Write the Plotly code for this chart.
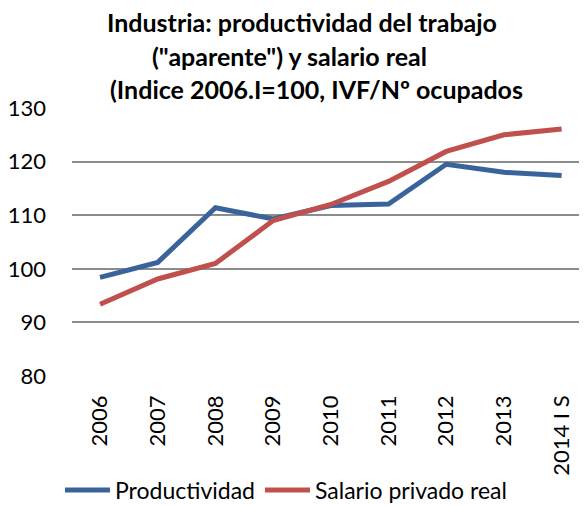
import plotly.graph_objects as go

categories = ["2006", "2007", "2008", "2009", "2010", "2011", "2012", "2013", "2014 I S"]
productividad = [98.4, 101.2, 111.4, 109.3, 111.8, 112.1, 119.5, 118.0, 117.4]
salario = [93.4, 98.1, 101.0, 109.0, 112.0, 116.3, 121.9, 125.0, 126.1]
title_lines = ["Industria: productividad del trabajo",
               "(\"aparente\") y salario real",
               "(Indice 2006.I=100, IVF/Nº ocupados"]
y_ticks = [80, 90, 100, 110, 120, 130]

FONT = "Lato"
OFF = 8  # page body margin offset
W, H = 587 - OFF, 506 - OFF
L, R, T, B = 72 - OFF, 0, 108 - OFF, 130
PW, PH = W - L - R, H - T - B

fig = go.Figure()
fig.add_trace(go.Scatter(x=list(range(len(categories))), y=productividad, mode="lines",
                         name="Productividad", line=dict(color="#3A639C", width=5)))
fig.add_trace(go.Scatter(x=list(range(len(categories))), y=salario, mode="lines",
                         name="Salario privado real", line=dict(color="#C0504D", width=5)))

centers = [302, 289, 316]
ys = [22, 56, 89]
for txt, cx, cy in zip(title_lines, centers, ys):
    fig.add_annotation(text="<b>" + txt + "</b>", xref="paper", yref="paper",
                       x=(cx - OFF - L) / PW, y=1 + (T - (cy - OFF)) / PH,
                       xanchor="center", yanchor="middle", showarrow=False,
                       font=dict(family=FONT, size=25, color="#000000"))

fig.update_layout(
    width=W, height=H, margin=dict(l=L, r=R, t=T, b=B, pad=0, autoexpand=False),
    paper_bgcolor="white", plot_bgcolor="white",
    font=dict(family=FONT, color="#000000"),
    showlegend=True,
    legend=dict(orientation="h", x=(60 - OFF - L) / PW, y=-((490 - OFF) - (H - B)) / PH,
                xanchor="left", yanchor="middle", font=dict(family=FONT, size=23),
                itemwidth=45, tracegroupgap=0, bgcolor="rgba(0,0,0,0)"),
    xaxis=dict(tickmode="array", tickvals=list(range(len(categories))), ticktext=categories,
               range=[-0.486, 8.44], tickangle=-90, showgrid=False, zeroline=False,
               showline=False, ticks="", tickfont=dict(family=FONT, size=22),
               ticklabelstandoff=14, automargin=False),
    yaxis=dict(range=[80, 130], tickvals=y_ticks, showgrid=True, gridcolor="#8C8C8C", gridwidth=2,
               zeroline=False, showline=False, ticks="", tickfont=dict(family=FONT, size=22),
               ticklabelstandoff=25, automargin=False),
)
fig.write_html("out.html")
